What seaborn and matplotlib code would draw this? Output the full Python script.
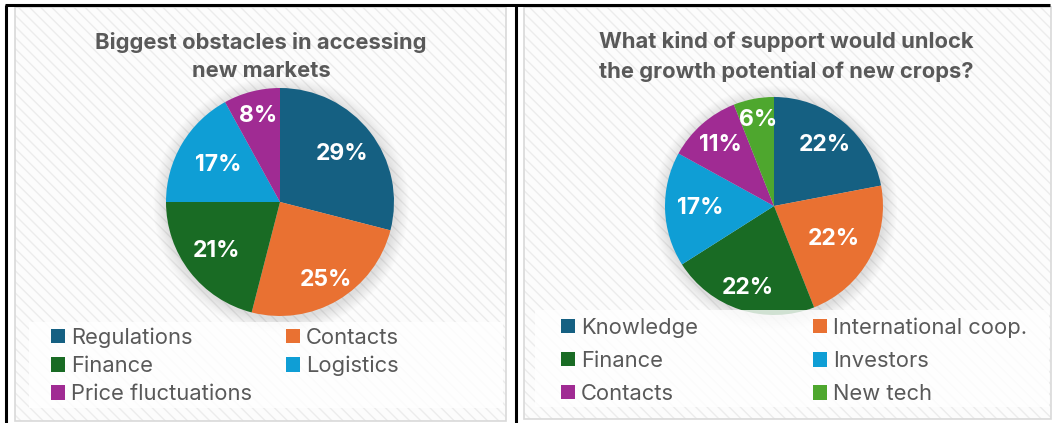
import matplotlib
matplotlib.use("Agg")
import matplotlib.pyplot as plt
import seaborn as sns
import numpy as np
from matplotlib.patches import Rectangle, Circle

# ---------------- data ----------------
left_title = "Biggest obstacles in accessing\nnew markets"
left_labels = ["Regulations", "Contacts", "Finance", "Logistics", "Price fluctuations"]
left_values = [29, 25, 21, 17, 8]

right_title = "What kind of support would unlock\nthe growth potential of new crops?"
right_labels = ["Knowledge", "International coop.", "Finance", "Investors", "Contacts", "New tech"]
right_values = [22, 22, 22, 17, 11, 6]

left_colors = ["#156082", "#E97132", "#196B24", "#0F9ED5", "#A02B93"]
right_colors = ["#156082", "#E97132", "#196B24", "#0F9ED5", "#A02B93", "#4EA72E"]

# ---------------- style ----------------
sns.set_theme(style="white")
plt.rcParams['font.family'] = ['Inter', 'DejaVu Sans']
plt.rcParams['hatch.linewidth'] = 1.0

W, H = 1055, 423
fig = plt.figure(figsize=(W / 100, H / 100), dpi=100)
fig.patch.set_facecolor("white")

TXT = "#595959"
TITLE_FS = 15.8
LEG_FS = 15.8
PCT_FS = 16.5

# background axes in pixel coordinates
bg = fig.add_axes([0, 0, 1, 1])
bg.set_xlim(0, W)
bg.set_ylim(H, 0)
bg.axis("off")

def chart_area(x0, y0, x1, y1):
    bg.add_patch(Rectangle((x0, y0), x1 - x0, y1 - y0, facecolor="#fcfcfc",
                           edgecolor="#ececec", hatch="\\\\\\", linewidth=0))
    bg.add_patch(Rectangle((x0, y0), x1 - x0, y1 - y0, facecolor="none",
                           edgecolor="#d9d9d9", linewidth=1.2))

chart_area(15, 7, 506, 421)
chart_area(524, 7, 1051, 419)

# black frame lines
bg.plot([5, 1050], [5, 5], color="black", lw=2.2, solid_capstyle="butt")
bg.plot([6, 6], [5, 423], color="black", lw=2.2, solid_capstyle="butt")
bg.plot([516, 516], [5, 423], color="black", lw=2.2, solid_capstyle="butt")

# titles
fig.text(261 / W, 1 - 56.5 / H, left_title, ha="center", va="center", fontsize=TITLE_FS,
         fontweight="bold", color=TXT, linespacing=1.55)
fig.text(786 / W, 1 - 56.5 / H, right_title, ha="center", va="center", fontsize=TITLE_FS,
         fontweight="bold", color=TXT, linespacing=1.55)


def draw_pie(cx, cy, r, values, colors, dists):
    ax = fig.add_axes([(cx - r) / W, 1 - (cy + r) / H, 2 * r / W, 2 * r / H])
    # soft shadow
    for k in range(10):
        ax.add_patch(Circle((0.01, -0.02), 1.0 + 0.012 * (10 - k), facecolor="black",
                            alpha=0.012, edgecolor="none", clip_on=False, zorder=0))
    wedges, texts, autotexts = ax.pie(
        values, colors=colors, startangle=90, counterclock=False, radius=1,
        autopct=lambda p: f"{p:.0f}%", pctdistance=0.7,
        wedgeprops=dict(linewidth=0, edgecolor="none"),
        textprops=dict(color="white", fontsize=PCT_FS, fontweight="bold"))
    for w, t, d in zip(wedges, autotexts, dists):
        ang = np.deg2rad((w.theta1 + w.theta2) / 2)
        t.set_position((d * np.cos(ang), d * np.sin(ang)))
        t.set_ha("center")
        t.set_va("center")
    ax.set_xlim(-1, 1)
    ax.set_ylim(-1, 1)
    ax.set_aspect("auto")
    ax.axis("off")
    return wedges


lw = draw_pie(280, 202, 114, left_values, left_colors, [0.69, 0.79, 0.70, 0.63, 0.78])
rw = draw_pie(774, 206, 109, right_values, right_colors, [0.73, 0.63, 0.79, 0.68, 0.74, 0.80])

# legend boxes (semi-opaque white, over the pies)
fig.patches.append(Rectangle((29 / W, 1 - 408 / H), (503 - 29) / W, (408 - 322) / H,
                             transform=fig.transFigure, facecolor="white", alpha=0.8,
                             edgecolor="none", zorder=1))
fig.patches.append(Rectangle((535 / W, 1 - 407 / H), (1049 - 535) / W, (407 - 310) / H,
                             transform=fig.transFigure, facecolor="white", alpha=0.8,
                             edgecolor="none", zorder=1))


def column_legend(handles, labels, x, ytop, spacing):
    fig.legend(handles, labels, loc="upper left", bbox_to_anchor=(x / W, 1 - ytop / H),
               frameon=False, fontsize=LEG_FS, handlelength=0.62, handleheight=0.62,
               handletextpad=0.28, labelspacing=spacing, borderpad=0, borderaxespad=0,
               labelcolor=TXT)


column_legend([lw[0], lw[2], lw[4]], [left_labels[0], left_labels[2], left_labels[4]], 51, 327.5, 0.37)
column_legend([lw[1], lw[3]], [left_labels[1], left_labels[3]], 286, 327.5, 0.37)
column_legend([rw[0], rw[2], rw[4]], [right_labels[0], right_labels[2], right_labels[4]], 561, 317.5, 0.6)
column_legend([rw[1], rw[3], rw[5]], [right_labels[1], right_labels[3], right_labels[5]], 813, 317.5, 0.6)

fig.savefig("out.png", dpi=100, facecolor="white")
